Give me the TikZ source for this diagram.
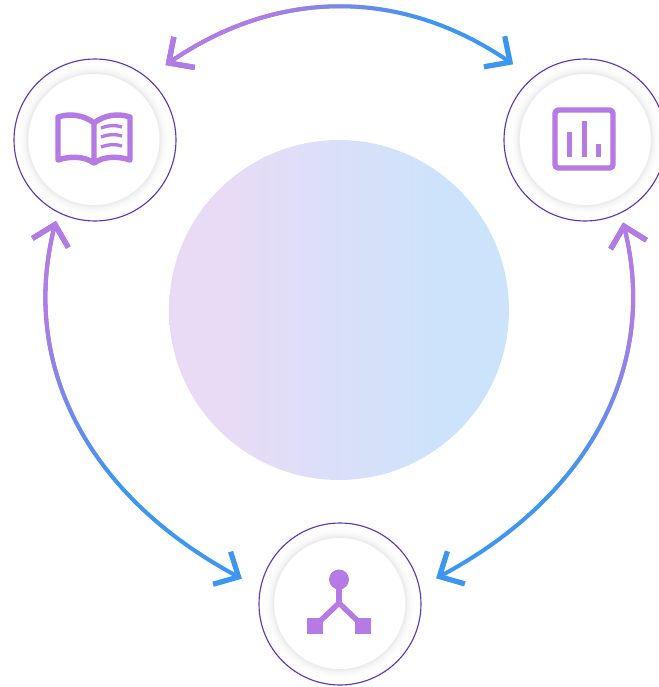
\documentclass[tikz,border=0pt]{standalone}
\usepackage{tikz}
\usetikzlibrary{arrows.meta,fadings}

\definecolor{iconpurple}{HTML}{B57AE4}
\definecolor{linkblue}{HTML}{3D96F0}
\definecolor{ringline}{HTML}{5F35BE}
\definecolor{hubleft}{HTML}{E9DBF6}
\definecolor{hubright}{HTML}{CBE4FB}

\pgfdeclareradialshading{padshade}{\pgfpoint{0bp}{0bp}}{
	color(0bp)=(white);
	color(21.9bp)=(white);
	color(22bp)=(black!8);
	color(23.2bp)=(black!3);
	color(25bp)=(white);
	color(50bp)=(white)
}
\pgfdeclarehorizontalshading{hubshade}{100bp}{
	color(0bp)=(hubleft);
	color(33.7bp)=(hubleft);
	color(66.3bp)=(hubright);
	color(100bp)=(hubright)
}
\pgfdeclarehorizontalshading{topfadeshade}{100bp}{
	color(0bp)=(pgftransparent!0);
	color(40bp)=(pgftransparent!0);
	color(61bp)=(pgftransparent!100);
	color(100bp)=(pgftransparent!100)
}
\pgfdeclareverticalshading{sidefadeshade}{100bp}{
	color(0bp)=(pgftransparent!100);
	color(39bp)=(pgftransparent!100);
	color(61bp)=(pgftransparent!0);
	color(100bp)=(pgftransparent!0)
}
\pgfdeclarefading{topfade}{\pgfuseshading{topfadeshade}}
\pgfdeclarefading{sidefade}{\pgfuseshading{sidefadeshade}}

\tikzset{
	ringnode/.style={circle,draw=ringline,line width=0.65pt,minimum size=3.24cm,inner sep=0pt},
	padnode/.style={circle,shade,shading=padshade,minimum size=3cm,inner sep=0pt},
	hubnode/.style={circle,minimum size=6.8cm,inner sep=0pt,shade,shading=hubshade},
	linkline/.style={line width=2.3pt,linkblue,{Straight Barb[length=0.38cm,width=0.74cm,line width=3pt]}-{Straight Barb[length=0.38cm,width=0.74cm,line width=3pt]}},
	gradlink/.style={linkline,postaction={draw,iconpurple,path fading=#1}},
	iconline/.style={draw=iconpurple,line width=3.1pt,line join=round,line cap=round},
	iconfill/.style={fill=iconpurple}
}

\begin{document}
\begin{tikzpicture}[x=0.02cm,y=-0.02cm]
	\useasboundingbox (0,0) rectangle (659,687);

	\node [hubnode](hub) at (339,310) {};
	\node [ringnode](book) at (95,140) {};
	\node [ringnode](chart) at (585,140) {};
	\node [ringnode](net) at (340,604) {};
	\node [padnode](bookpad) at (93.4,139) {};
	\node [padnode](chartpad) at (584.8,139) {};
	\node [padnode](netpad) at (339.2,603) {};

	\draw [gradlink=topfade,shorten <=0.44cm,shorten >=0.47cm](book.50) .. controls (278,-12) and (401,-12) .. (chart.130);
	\draw [gradlink=sidefade,shorten <=0.17cm,shorten >=0.41cm](book.243) .. controls (19,367) and (90,497) .. (net.169);
	\draw [gradlink=sidefade,shorten <=0.19cm,shorten >=0.37cm](chart.296) .. controls (659,367) and (588,497) .. (net.12);

	% book
	\draw [iconline](94,123) .. controls (84,115) and (70,113) .. (58,117) -- (58,160) .. controls (70,156) and (84,156) .. (94,163) .. controls (104,156) and (118,156) .. (130,160) -- (130,117) .. controls (118,113) and (104,115) .. (94,123) -- (94,163);
	\draw [iconline,line width=1.9pt,line cap=butt](101,128) .. controls (108,125) and (116,125) .. (122,127);
	\draw [iconline,line width=1.9pt,line cap=butt](101,137) .. controls (108,134) and (116,134) .. (122,136);
	\draw [iconline,line width=1.9pt,line cap=butt](101,147) .. controls (108,144) and (116,144) .. (122,146);

	% chart
	\draw [iconline,rounded corners=2pt](555,110) rectangle (613,168);
	\fill [iconfill](567,132) rectangle (572,157);
	\fill [iconfill](581.5,121) rectangle (586.5,157);
	\fill [iconfill](596,144) rectangle (601,157);

	% net
	\fill [iconfill](339,579.5) circle (10);
	\fill [iconfill](306.7,618) rectangle (323,634.3);
	\fill [iconfill](355,618) rectangle (371.3,634.3);
	\draw [iconline,line cap=butt,line join=miter](339,585) -- (339,604);
	\draw [iconline,line cap=butt,line join=miter](315,626) -- (339,603) -- (363,626);

\end{tikzpicture}
\end{document}
